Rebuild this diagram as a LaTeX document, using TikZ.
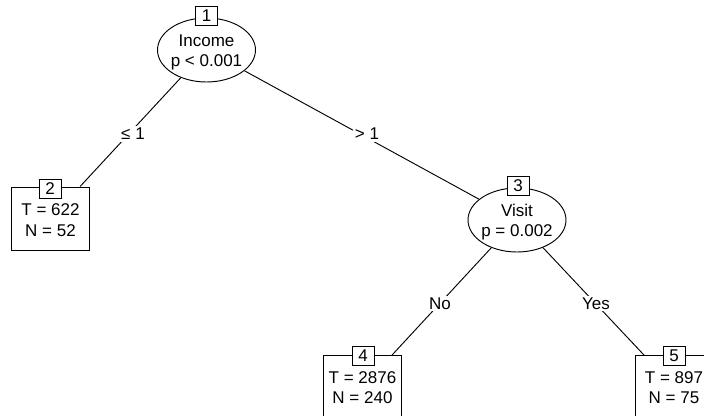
\documentclass[tikz,border=0pt]{standalone}
\usepackage{fontspec}
\setmainfont{Liberation Sans}
\usetikzlibrary{shapes.geometric}
\begin{document}
\begin{tikzpicture}[x=0.75pt,y=-0.75pt,
  every node/.style={font=\fontsize{12.75}{15}\selectfont},
  innernode/.style={draw, ellipse, fill=white, line width=0.7pt, minimum width=73.5pt, minimum height=48pt, inner sep=0pt},
  termnode/.style={draw, rectangle, fill=white, line width=0.7pt, minimum width=58.5pt, minimum height=47.25pt, inner sep=0pt},
  idbox/.style={draw, rectangle, fill=white, line width=0.7pt, minimum width=16.5pt, minimum height=14.25pt, inner sep=0pt},
  txt/.style={anchor=base, inner sep=0pt},
  edgeline/.style={line width=0.7pt},
  lbl/.style={fill=white, inner sep=1.5pt}]
\useasboundingbox (0,0) rectangle (704,416);
% inner nodes
\node[innernode] (n1) at (206.5,50) {};
\node[idbox] (n1id) at (206.5,15.5) {1};
\node[txt] (n1a) at (206.5,47) {Income};
\node[txt] (n1b) at (206.5,67) {p < 0.001};
\node[innernode] (n3) at (517,220) {};
\node[idbox] (n3id) at (518,185.5) {3};
\node[txt] (n3a) at (517,217) {Visit};
\node[txt] (n3b) at (517,237) {p = 0.002};
% terminal nodes
\node[termnode] (n2) at (50.5,218.5) {};
\node[idbox] (n2id) at (50,189) {2};
\node[txt] (n2a) at (50.5,216) {T = 622};
\node[txt] (n2b) at (50.5,237) {N = 52};
\node[termnode] (n4) at (362.5,387) {};
\node[idbox] (n4id) at (363,356) {4};
\node[txt] (n4a) at (362.5,383.5) {T = 2876};
\node[txt] (n4b) at (362.5,404) {N = 240};
\node[termnode] (n5) at (674,387) {};
\node[idbox] (n5id) at (674,356) {5};
\node[txt] (n5a) at (674,383.5) {T = 897};
\node[txt] (n5b) at (674,404) {N = 75};
% edges
\draw[edgeline] (n1) -- (n2);
\draw[edgeline] (n1) -- (n3);
\draw[edgeline] (n3) -- (n4);
\draw[edgeline] (n3) -- (n5);
\node[lbl] (l12) at (133,134) {≤ 1};
\node[lbl] (l13) at (367,134) {> 1};
\node[lbl] (l34) at (440,303.5) {No};
\node[lbl] (l35) at (596,303.5) {Yes};
\end{tikzpicture}
\end{document}
